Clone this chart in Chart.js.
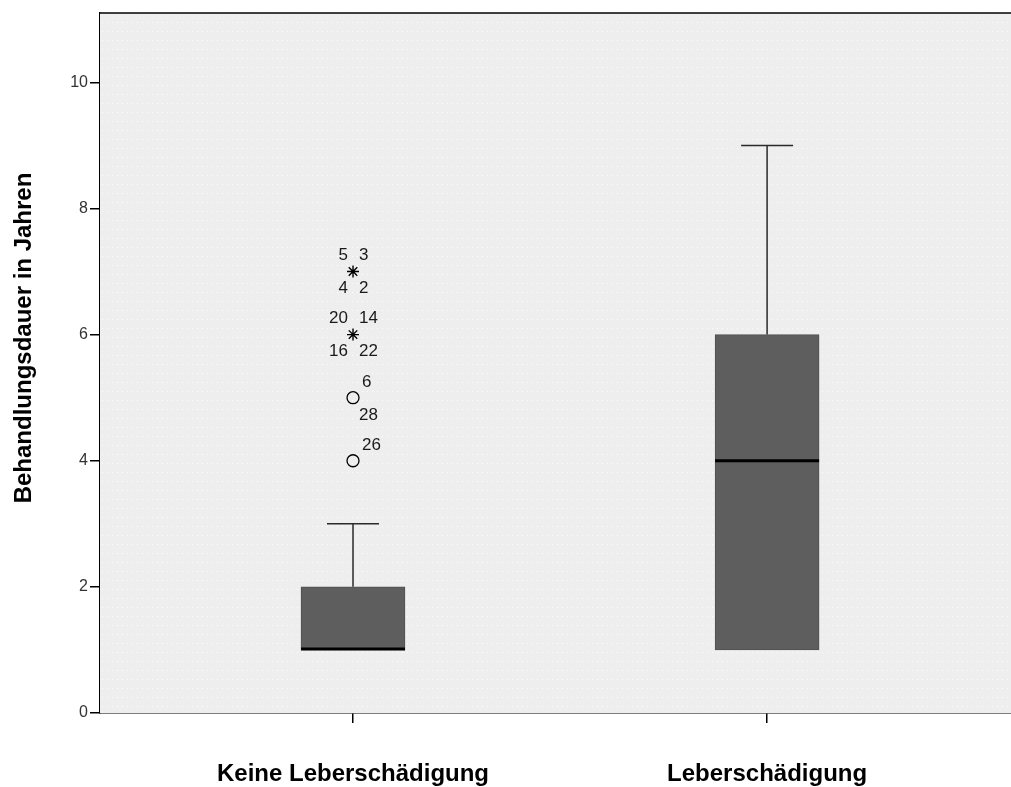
<!DOCTYPE html>
<html>
<head>
<meta charset="utf-8">
<script src="https://cdn.jsdelivr.net/npm/chart.js@4"></script>
<style>
  html, body { margin: 0; padding: 0; background: #fff; overflow: hidden; }
  #wrap { width: 1011px; height: 787px; }
</style>
</head>
<body>
<div id="wrap"><canvas id="boxplot"></canvas></div>
<script>
// Daten
const categories = ['Keine Leberschädigung', 'Leberschädigung'];
const whiskerLow = [1, 1];
const q1 = [1, 1];
const median = [1, 4];
const q3 = [2, 6];
const whiskerHigh = [3, 9];

// Ausreißer (Kreis) und Extremwerte (Stern), nur Gruppe 1
const outlierValues = [5, 4];
const outlierCases = [['6', '28'], ['26']];
const extremeValues = [7, 6];
const extremeCases = [['5', '3', '4', '2'], ['20', '14', '16', '22']];

const yTicks = [0, 2, 4, 6, 8, 10];
const yTitle = 'Behandlungsdauer in Jahren';

// Hintergrund mit Punktraster
function makePattern(ctx) {
  const c = document.createElement('canvas');
  c.width = 5; c.height = 9;
  const p = c.getContext('2d');
  p.fillStyle = '#eeeeee';
  p.fillRect(0, 0, 5, 9);
  p.fillStyle = 'rgba(255,255,255,0.85)';
  p.fillRect(2, 4, 1, 1);
  return ctx.createPattern(c, 'repeat');
}

const boxPlugin = {
  id: 'boxExtras',
  beforeDatasetsDraw(chart) {
    const { ctx, chartArea } = chart;
    ctx.save();
    ctx.fillStyle = makePattern(ctx);
    ctx.fillRect(chartArea.left, chartArea.top, chartArea.right - chartArea.left, chartArea.bottom - chartArea.top);
    ctx.restore();
  },
  afterDatasetsDraw(chart) {
    const { ctx } = chart;
    const xs = chart.scales.x, ys = chart.scales.y;
    const halfCap = 26, halfBox = 52;
    ctx.save();
    for (let i = 0; i < categories.length; i++) {
      const x = xs.getPixelForValue(i + 1);
      ctx.strokeStyle = '#2a2a2a';
      ctx.lineWidth = 1.5;
      // obere Whisker
      if (whiskerHigh[i] > q3[i]) {
        ctx.beginPath();
        ctx.moveTo(x, ys.getPixelForValue(q3[i]));
        ctx.lineTo(x, ys.getPixelForValue(whiskerHigh[i]));
        ctx.moveTo(x - halfCap, ys.getPixelForValue(whiskerHigh[i]));
        ctx.lineTo(x + halfCap, ys.getPixelForValue(whiskerHigh[i]));
        ctx.stroke();
      }
      // untere Whisker
      if (whiskerLow[i] < q1[i]) {
        ctx.beginPath();
        ctx.moveTo(x, ys.getPixelForValue(q1[i]));
        ctx.lineTo(x, ys.getPixelForValue(whiskerLow[i]));
        ctx.moveTo(x - halfCap, ys.getPixelForValue(whiskerLow[i]));
        ctx.lineTo(x + halfCap, ys.getPixelForValue(whiskerLow[i]));
        ctx.stroke();
      }
      // Median
      ctx.strokeStyle = '#000';
      ctx.lineWidth = 3;
      const ym = ys.getPixelForValue(median[i]) - (median[i] === q1[i] ? 1 : 0);
      ctx.beginPath();
      ctx.moveTo(x - halfBox, ym);
      ctx.lineTo(x + halfBox, ym);
      ctx.stroke();
    }

    // Fallnummern
    ctx.fillStyle = '#1a1a1a';
    ctx.font = '17px "Liberation Sans", Arial, sans-serif';
    ctx.textBaseline = 'middle';
    const x1 = xs.getPixelForValue(1);
    extremeValues.forEach((v, k) => {
      const y = ys.getPixelForValue(v);
      const c = extremeCases[k];
      ctx.textAlign = 'right';
      ctx.fillText(c[0], x1 - 5, y - 16);
      ctx.fillText(c[2], x1 - 5, y + 17);
      ctx.textAlign = 'left';
      ctx.fillText(c[1], x1 + 6, y - 16);
      ctx.fillText(c[3], x1 + 6, y + 17);
    });
    outlierValues.forEach((v, k) => {
      const y = ys.getPixelForValue(v);
      const c = outlierCases[k];
      ctx.textAlign = 'left';
      ctx.fillText(c[0], x1 + 9, y - 15);
      if (c[1]) ctx.fillText(c[1], x1 + 6, y + 18);
    });
    ctx.restore();
  },
  afterDraw(chart) {
    const { ctx, chartArea } = chart;
    ctx.save();
    // obere Rahmenlinie
    ctx.strokeStyle = '#000';
    ctx.lineWidth = 1.5;
    ctx.beginPath();
    ctx.moveTo(chartArea.left, chartArea.top);
    ctx.lineTo(chartArea.right, chartArea.top);
    ctx.stroke();
    // Achsentitel Y
    ctx.translate(24, 338);
    ctx.rotate(-Math.PI / 2);
    ctx.fillStyle = '#000';
    ctx.font = 'bold 24px "Liberation Sans", Arial, sans-serif';
    ctx.textAlign = 'center';
    ctx.textBaseline = 'middle';
    ctx.fillText(yTitle, 0, 0);
    ctx.restore();
  }
};

const ctx = document.getElementById('boxplot').getContext('2d');

new Chart(ctx, {
  type: 'bar',
  data: {
    datasets: [
      {
        label: 'Box',
        data: categories.map((c, i) => ({ x: i + 1, y: [q1[i], q3[i]] })),
        backgroundColor: '#5e5e5e',
        borderColor: '#505050',
        borderWidth: 1,
        borderSkipped: false,
        barThickness: 104,
        order: 2
      },
      {
        type: 'scatter',
        label: 'Ausreißer',
        data: outlierValues.map(v => ({ x: 1, y: v })),
        pointStyle: 'circle',
        pointRadius: 6,
        borderColor: '#000',
        borderWidth: 1.3,
        backgroundColor: 'rgba(0,0,0,0)',
        order: 1
      },
      {
        type: 'scatter',
        label: 'Extremwerte',
        data: extremeValues.map(v => ({ x: 1, y: v })),
        pointStyle: 'star',
        pointRadius: 6,
        borderColor: '#000',
        borderWidth: 1.4,
        order: 1
      }
    ]
  },
  options: {
    responsive: true,
    maintainAspectRatio: false,
    animation: false,
    events: [],
    layout: { autoPadding: false, padding: { top: 13, left: 0, right: 0, bottom: 0 } },
    plugins: {
      legend: { display: false },
      tooltip: { enabled: false }
    },
    scales: {
      x: {
        type: 'linear',
        offset: false,
        min: 0.389,
        max: 2.589,
        afterBuildTicks: (scale) => { scale.ticks = [{ value: 1 }, { value: 2 }]; },
        afterFit: (scale) => {
          scale.height = 74;
          scale.paddingLeft = 0;
          scale.paddingRight = 0;
        },
        ticks: {
          autoSkip: false,
          maxRotation: 0,
          padding: 37,
          color: '#000',
          font: { family: '"Liberation Sans", Arial, sans-serif', size: 24, weight: 'bold' },
          callback: (v) => categories[v - 1] || ''
        },
        grid: { offset: false, drawOnChartArea: false, tickLength: 10, color: '#000', lineWidth: 1.5 },
        border: { color: '#000', width: 1.5 }
      },
      y: {
        min: 0,
        max: 11.1,
        afterBuildTicks: (scale) => { scale.ticks = yTicks.map(v => ({ value: v })); },
        afterFit: (scale) => {
          scale.width = 100;
          scale.paddingTop = 0;
          scale.paddingBottom = 0;
        },
        ticks: {
          padding: 2,
          color: '#333',
          font: { family: '"Liberation Sans", Arial, sans-serif', size: 16 }
        },
        grid: { drawOnChartArea: false, tickLength: 10, color: '#000', lineWidth: 1.5 },
        border: { color: '#000', width: 1.5 }
      }
    }
  },
  plugins: [boxPlugin]
});
</script>
</body>
</html>
